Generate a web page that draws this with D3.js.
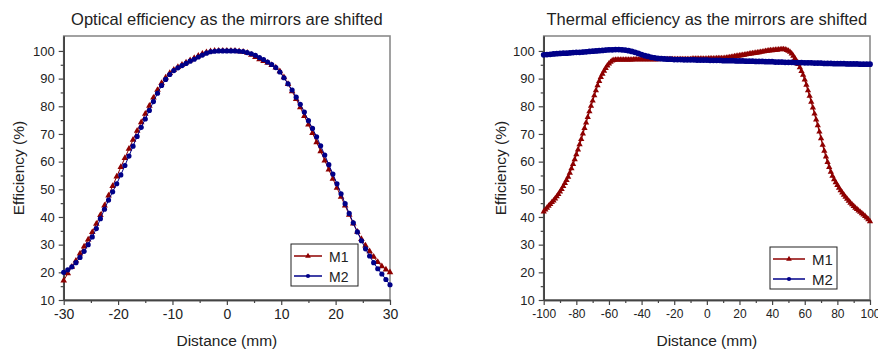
<!DOCTYPE html>
<html>
<head>
<meta charset="utf-8">
<script src="https://cdn.jsdelivr.net/npm/d3@7"></script>
<style>
  body { margin: 0; background: #fff; }
  svg text { font-family: "Liberation Sans", Arial, sans-serif; fill: #222; }
</style>
</head>
<body>
<div id="container"></div>
<script>
// optical panel: x step 0.75 mm from -30 to 30
const opticalX = d3.range(0, 81).map(i => -30 + i * 0.75);
const opticalM1 = [
    17.0, 19.6, 22.0, 24.2, 26.8, 29.3, 31.8, 34.5, 37.5, 40.7,
    44.1, 47.7, 51.2, 54.6, 58.0, 61.3, 64.6, 67.9, 71.1, 74.2,
    77.3, 80.2, 83.1, 85.9, 88.4, 90.4, 92.0, 93.2, 94.2, 95.0,
    95.8, 96.6, 97.4, 98.2, 99.0, 99.5, 99.9, 100, 100, 100,
    100, 100, 100, 99.9, 99.7, 99.3, 98.6, 97.8, 97.0, 96.3,
    95.7, 94.9, 94.0, 92.6, 90.5, 88.0, 85.4, 82.6, 79.6, 76.5,
    73.4, 70.3, 67.0, 63.7, 60.4, 57.1, 53.8, 50.5, 47.3, 44.1,
    40.8, 37.6, 34.6, 32.0, 29.7, 27.6, 25.6, 23.7, 22.2, 21.0,
    20.0
];
const opticalM2 = [
    20.0, 20.9, 22.0, 23.5, 25.4, 27.6, 30.0, 32.8, 35.8, 39.4,
    42.8, 46.1, 49.1, 52.0, 55.2, 58.6, 62.0, 65.6, 69.1, 72.4,
    75.4, 78.5, 81.7, 84.7, 87.5, 89.7, 91.5, 92.9, 93.9, 94.7,
    95.5, 96.3, 97.0, 97.8, 98.5, 99.2, 99.7, 99.9, 100, 100,
    100, 100, 100, 99.9, 99.8, 99.4, 99.0, 98.4, 97.6, 96.9,
    96.0, 95.1, 94.0, 92.4, 90.3, 88.1, 85.9, 83.3, 80.7, 77.9,
    74.8, 72.0, 69.0, 65.7, 62.4, 58.9, 55.5, 52.0, 48.4, 44.8,
    41.3, 37.9, 34.6, 31.4, 28.5, 25.9, 23.5, 21.3, 19.4, 17.4,
    15.5
];

// thermal panel: M1 every 1 mm, M2 every 2 mm, -100 to 100
const thermalX1 = d3.range(-100, 101, 1);
const thermalM1 = [
    41.9, 42.6, 43.3, 44.0, 44.6, 45.3, 45.9, 46.6, 47.4, 48.2,
    49.1, 50.0, 51.1, 52.2, 53.3, 54.5, 55.9, 57.5, 59.1, 60.8,
    62.6, 64.3, 66.2, 68.1, 70.1, 72.1, 74.1, 76.1, 78.1, 80.1,
    82.0, 83.9, 85.7, 87.5, 89.1, 90.5, 91.7, 92.8, 93.8, 94.7,
    95.4, 96.0, 96.5, 96.7, 96.8,
    96.8, 96.8, 96.8, 96.8, 96.8, 96.8, 96.8, 96.8, 96.8, 96.8,
    96.9, 96.9, 96.9, 96.9, 96.9, 96.9, 96.9, 96.9, 96.9, 96.9, 96.9, 96.9, 96.9, 96.9, 96.9, 96.9,
    97.0, 97.0, 97.0, 97.0, 97.0, 97.0, 97.0, 97.0, 97.0, 97.0,
    97.0, 97.0, 97.0, 97.0, 97.0, 97.0, 97.0, 97.0, 97.0, 97.0,
    97.1, 97.1, 97.1, 97.1, 97.1, 97.1, 97.1, 97.1, 97.1, 97.1,
    97.2, 97.2, 97.2, 97.2, 97.2, 97.3, 97.3, 97.3, 97.3, 97.3,
    97.4, 97.5, 97.6, 97.7, 97.8, 97.9, 98.0, 98.1, 98.2, 98.3,
    98.4, 98.5, 98.6, 98.7, 98.8, 98.9, 99.0, 99.1, 99.2, 99.3,
    99.4, 99.5, 99.6, 99.7, 99.8, 99.9, 100.0, 100.1, 100.2, 100.2,
    100.3, 100.4, 100.4, 100.5, 100.5, 100.6, 100.6, 100.5, 100.3, 100.0,
    99.6, 99.0, 98.2, 97.3, 96.3, 95.2, 94.0, 92.7, 91.3, 89.6,
    87.7, 85.7, 83.7, 81.6, 79.5, 77.3, 75.2, 73.1, 70.8, 68.4,
    66.0, 63.9, 61.8, 59.8, 58.0, 56.3, 54.8, 53.6, 52.5, 51.5,
    50.5, 49.6, 48.8, 48.0, 47.2, 46.5, 45.8, 45.1, 44.5, 43.9,
    43.3, 42.8, 42.3, 41.8, 41.3, 40.8, 40.3, 39.7, 39.1, 38.4
];
const thermalX2 = d3.range(-100, 101, 2);
const thermalM2 = [
    98.6, 98.7, 98.8, 98.9, 99.0, 99.1, 99.2, 99.2, 99.3, 99.4,
    99.5, 99.5, 99.6, 99.7, 99.8, 99.9, 100.0, 100.1, 100.2, 100.3,
    100.4, 100.4, 100.5, 100.5, 100.4, 100.3, 100.1, 99.8, 99.5, 99.1,
    98.7, 98.3, 98.0, 97.7, 97.5, 97.3, 97.2, 97.1, 97.0, 97.0,
    96.9, 96.9, 96.9, 96.8, 96.8, 96.8, 96.8, 96.7, 96.7, 96.7,
    96.7, 96.6, 96.6, 96.6, 96.6, 96.5, 96.5, 96.5, 96.5, 96.4,
    96.4, 96.4, 96.3, 96.3, 96.3, 96.2, 96.2, 96.2, 96.1, 96.1,
    96.1, 96.0, 96.0, 96.0, 95.9, 95.9, 95.9, 95.8, 95.8, 95.8,
    95.7, 95.7, 95.7, 95.6, 95.6, 95.6, 95.5, 95.5, 95.5, 95.4,
    95.4, 95.4, 95.4, 95.3, 95.3, 95.3, 95.3, 95.2, 95.2, 95.2,
    95.2
];

const seriesNames = ["M1", "M2"];
const yTicks = d3.range(10, 101, 10);
const yMinorTicks = d3.range(15, 101, 10);
const opticalTicks = [-30, -20, -10, 0, 10, 20, 30];
const opticalMinor = [-25, -15, -5, 5, 15, 25];
const thermalTicks = [-100, -80, -60, -40, -20, 0, 20, 40, 60, 80, 100];
const thermalMinor = [-90, -70, -50, -30, -10, 10, 30, 50, 70, 90];

const red = "#8e0000";
const blue = "#000088";

const svg = d3.select("#container").append("svg")
    .attr("width", 878)
    .attr("height", 352);

const drawPanel = (p) => {
    const x = d3.scaleLinear().domain(p.xDomain).range([p.left, p.right]);
    const y = d3.scaleLinear().domain([10, 105.4]).range([300, 36]);
    const g = svg.append("g");

    // frame
    g.append("rect")
        .attr("x", p.left)
        .attr("y", 36)
        .attr("width", p.right - p.left)
        .attr("height", 264)
        .attr("fill", "none")
        .attr("stroke", "#8a8a8a")
        .attr("stroke-width", 1.6);

    const axisStyle = (sel) => {
        sel.select(".domain").attr("stroke", "#444").attr("stroke-width", 1.6);
        sel.selectAll(".tick line").attr("stroke", "#444").attr("stroke-width", 1.2);
    };

    g.append("g")
        .attr("transform", `translate(0,300)`)
        .call(d3.axisBottom(x).tickValues(p.minor).tickSize(3).tickFormat("").tickSizeOuter(0))
        .call(axisStyle);
    const xAx = g.append("g")
        .attr("transform", `translate(0,300)`)
        .call(d3.axisBottom(x).tickValues(p.ticks).tickSize(5).tickSizeOuter(0).tickPadding(4)
            .tickFormat(d => String(d)))
        .call(axisStyle);
    xAx.selectAll("text")
        .attr("font-size", p.xTickSize)
        .attr("font-family", "Liberation Sans, Arial, sans-serif")
        .attr("fill", "#222");

    g.append("g")
        .attr("transform", `translate(${p.left},0)`)
        .call(d3.axisLeft(y).tickValues(yMinorTicks).tickSize(3).tickFormat("").tickSizeOuter(0))
        .call(axisStyle);
    const yAx = g.append("g")
        .attr("transform", `translate(${p.left},0)`)
        .call(d3.axisLeft(y).tickValues(yTicks).tickSize(5).tickSizeOuter(0).tickPadding(4)
            .tickFormat(d => String(d)))
        .call(axisStyle);
    yAx.selectAll("text")
        .attr("font-size", 13)
        .attr("font-family", "Liberation Sans, Arial, sans-serif")
        .attr("fill", "#222");

    const clipId = "clip" + p.id;
    svg.append("clipPath").attr("id", clipId)
        .append("rect")
        .attr("x", p.left - 4).attr("y", 30)
        .attr("width", p.right - p.left + 8).attr("height", 276);

    const plot = g.append("g").attr("clip-path", `url(#${clipId})`);
    const line = d3.line().x(d => x(d[0])).y(d => y(d[1]));

    p.series.forEach(s => {
        const pts = s.xs.map((xv, i) => [xv, s.ys[i]]);
        plot.append("path")
            .datum(pts)
            .attr("d", line)
            .attr("fill", "none")
            .attr("stroke", s.color)
            .attr("stroke-width", s.lineWidth);
        plot.selectAll(null)
            .data(pts)
            .join("path")
            .attr("transform", d => `translate(${x(d[0])},${y(d[1])})`)
            .attr("d", d3.symbol().type(s.symbol).size(s.size))
            .attr("fill", s.color);
    });

    // titles
    g.append("text")
        .attr("x", (p.left + p.right) / 2)
        .attr("y", 25)
        .attr("text-anchor", "middle")
        .attr("font-size", 16.5)
        .text(p.title);
    g.append("text")
        .attr("x", (p.left + p.right) / 2)
        .attr("y", 346)
        .attr("text-anchor", "middle")
        .attr("font-size", 15.5)
        .text("Distance (mm)");
    g.append("text")
        .attr("transform", `translate(${p.yTitleX},168) rotate(-90)`)
        .attr("text-anchor", "middle")
        .attr("font-size", 15.5)
        .text("Efficiency (%)");

    // legend
    const lg = g.append("g").attr("transform", `translate(${p.legend[0]},${p.legend[1]})`);
    lg.append("rect")
        .attr("width", p.legendW)
        .attr("height", 42)
        .attr("fill", "#fff")
        .attr("stroke", "#222")
        .attr("stroke-width", 1);
    p.series.forEach((s, i) => {
        const ly = 12 + i * 20;
        lg.append("line")
            .attr("x1", 3).attr("x2", p.sampleW)
            .attr("y1", ly).attr("y2", ly)
            .attr("stroke", s.color)
            .attr("stroke-width", 1.5);
        lg.append("path")
            .attr("transform", `translate(${(3 + p.sampleW) / 2},${ly})`)
            .attr("d", d3.symbol().type(s.symbol).size(14))
            .attr("fill", s.color);
        lg.append("text")
            .attr("x", p.sampleW + 7)
            .attr("y", ly + 5.5)
            .attr("font-size", p.legendFont)
            .text(seriesNames[i]);
    });
};

drawPanel({
    id: "a",
    left: 63.7, right: 390,
    xDomain: [-30, 30],
    ticks: opticalTicks, minor: opticalMinor, xTickSize: 14,
    title: "Optical efficiency as the mirrors are shifted",
    yTitleX: 24,
    legend: [291, 244], legendW: 67, sampleW: 31, legendFont: 14,
    series: [
        { xs: opticalX, ys: opticalM1, color: red, symbol: d3.symbolTriangle, size: 19, lineWidth: 1 },
        { xs: opticalX, ys: opticalM2, color: blue, symbol: d3.symbolCircle, size: 21, lineWidth: 1 }
    ]
});

drawPanel({
    id: "b",
    left: 543.7, right: 870,
    xDomain: [-100, 100],
    ticks: thermalTicks, minor: thermalMinor, xTickSize: 12,
    title: "Thermal efficiency as the mirrors are shifted",
    yTitleX: 506,
    legend: [770, 247], legendW: 67, sampleW: 35, legendFont: 15,
    series: [
        { xs: thermalX1, ys: thermalM1, color: red, symbol: d3.symbolTriangle, size: 17, lineWidth: 1.4 },
        { xs: thermalX2, ys: thermalM2, color: blue, symbol: d3.symbolCircle, size: 26, lineWidth: 4.5 }
    ]
});
</script>
</body>
</html>
